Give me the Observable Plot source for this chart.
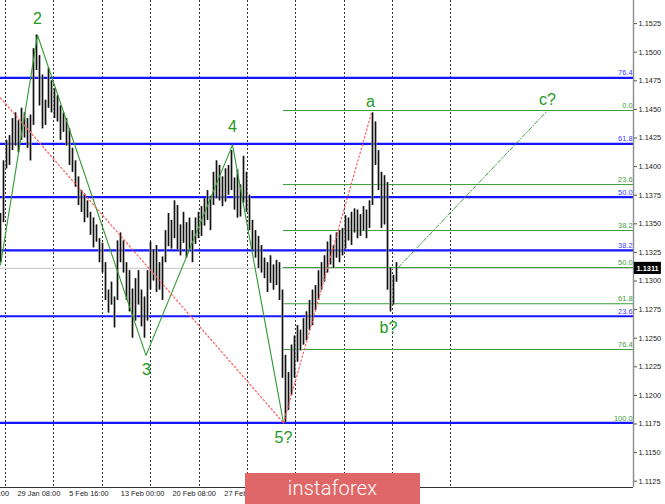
<!DOCTYPE html>
<html>
<head>
<meta charset="utf-8">
<script src="https://cdn.jsdelivr.net/npm/d3@7"></script>
<script src="https://cdn.jsdelivr.net/npm/@observablehq/plot@0.6"></script>
<style>
  html, body { margin: 0; padding: 0; background: #fff; }
  #wrap { position: relative; width: 665px; height: 504px; overflow: hidden; }
  #banner { position: absolute; left: 245px; top: 473px; width: 175px; height: 31px;
    background: #e06767; color: #fff; font-family: Roboto, "Open Sans", sans-serif;
    font-size: 20px; font-weight: 300; line-height: 31px; text-align: center; letter-spacing: 0.2px; }
</style>
</head>
<body>
<div id="wrap"><div id="chart"></div><div id="banner">instaforex</div></div>
<script>
// ---- OHLC bar highs / lows (EURUSD, H4) ----
const highs = [1.1359,1.1405,1.1423,1.1427,1.1442,1.1447,1.1440,1.1451,1.1447,1.1442,
  1.1445,1.1503,1.1515,1.1497,1.1480,1.1458,1.1486,1.1475,1.1468,1.1462,
  1.1453,1.1447,1.1442,1.1433,1.1416,1.1405,1.1391,1.1379,1.1376,1.1370,
  1.1360,1.1355,1.1349,1.1337,1.1333,1.1316,1.1292,1.1299,1.1286,1.1335,
  1.1342,1.1335,1.1316,1.1309,1.1293,1.1302,1.1309,1.1292,1.1286,1.1309,
  1.1334,1.1327,1.1331,1.1316,1.1321,1.1344,1.1359,1.1353,1.1370,1.1366,
  1.1349,1.1360,1.1351,1.1355,1.1344,1.1355,1.1360,1.1365,1.1372,1.1379,
  1.1374,1.1395,1.1405,1.1401,1.1391,1.1398,1.1401,1.1414,1.1390,1.1397,
  1.1384,1.1409,1.1395,1.1375,1.1353,1.1344,1.1339,1.1331,1.1320,1.1316,
  1.1322,1.1314,1.1318,1.1316,1.1292,1.1235,1.1220,1.1244,1.1252,1.1261,
  1.1257,1.1267,1.1273,1.1283,1.1292,1.1296,1.1309,1.1316,1.1322,1.1334,
  1.1340,1.1331,1.1342,1.1344,1.1346,1.1357,1.1355,1.1360,1.1363,1.1362,
  1.1358,1.1365,1.1362,1.1370,1.1447,1.1439,1.1414,1.1395,1.1392,1.1386,
  1.1311,1.1305,1.1316];
const lows = [1.1316,1.1351,1.1398,1.1401,1.1414,1.1418,1.1412,1.1423,1.1425,1.1416,
  1.1405,1.1436,1.1484,1.1453,1.1433,1.1436,1.1451,1.1447,1.1442,1.1439,
  1.1423,1.1430,1.1418,1.1401,1.1395,1.1382,1.1366,1.1360,1.1351,1.1355,
  1.1340,1.1329,1.1334,1.1316,1.1307,1.1283,1.1272,1.1279,1.1259,1.1283,
  1.1316,1.1307,1.1283,1.1273,1.1250,1.1265,1.1279,1.1260,1.1250,1.1265,
  1.1292,1.1300,1.1290,1.1292,1.1283,1.1316,1.1330,1.1328,1.1337,1.1327,
  1.1322,1.1333,1.1320,1.1327,1.1316,1.1332,1.1337,1.1339,1.1348,1.1353,
  1.1344,1.1366,1.1372,1.1370,1.1365,1.1369,1.1375,1.1379,1.1362,1.1355,
  1.1356,1.1368,1.1360,1.1344,1.1327,1.1320,1.1311,1.1307,1.1302,1.1290,
  1.1298,1.1292,1.1296,1.1283,1.1215,1.1176,1.1187,1.1200,1.1215,1.1229,
  1.1239,1.1244,1.1248,1.1257,1.1261,1.1274,1.1283,1.1292,1.1299,1.1307,
  1.1314,1.1311,1.1320,1.1316,1.1322,1.1328,1.1335,1.1331,1.1342,1.1337,
  1.1339,1.1344,1.1337,1.1346,1.1366,1.1401,1.1379,1.1346,1.1349,1.1292,
  1.1273,1.1279,1.1299];
const lastPrice = 1.1311;

// ---- Wave counts (bar index, price) ----
const waveIdx   = [0, 12.33, 48.5, 77.33, 94.33];
const wavePrice = [1.1314, 1.1515, 1.1235, 1.1419, 1.1176];
const redIdxA = [0, 94.33],     redPriceA = [1.1460, 1.1176];
const redIdxB = [94.33, 123.67], redPriceB = [1.1176, 1.1447];
const cIdx = [132.67, 182.33],   cPrice = [1.1312, 1.1449];
const waveLabels = ["2", "3", "4", "5?", "a", "b?", "c?"];
const waveLabelIdx = [12.33, 48.67, 77.33, 94.33, 123.33, 129.33, 182.33];
const waveLabelPrice = [1.15295, 1.12227, 1.14351, 1.11633, 1.14569, 1.12586, 1.14587];

// ---- Fibonacci levels ----
const blueLabels = ["76.4", "61.8", "50.0", "38.2", "23.6", ""];
const bluePrices = [1.14776, 1.14199, 1.13733, 1.13267, 1.12692, 1.11760];
const greenLabels = ["0.0", "23.6", "38.2", "50.0", "61.8", "76.4", "100.0"];
const greenPrices = [1.14490, 1.13843, 1.13441, 1.13118, 1.12801, 1.12401, 1.11755];
const greenStartIdx = 94.33;

// ---- Axes ----
const priceTicks = [1.1125,1.1150,1.1175,1.1200,1.1225,1.1250,1.1275,1.1300,1.1325,1.1350,
  1.1375,1.1400,1.1425,1.1450,1.1475,1.1500,1.1525];
const gridIdx = [1.67, 17.67, 34, 50, 66.33, 82.33, 98.33, 114.67, 130.67, 150];
const timeLabels = ["22 Jan 00:00", "29 Jan 08:00", "5 Feb 16:00", "13 Feb 00:00", "20 Feb 08:00", "27 Feb 16:00"];
const timeIdx = [-11.4, 5.67, 22.9, 40.1, 57.3, 74.6];

const xMax = 211;
const yDomain = [1.111949, 1.154519];

const bars = highs.map((h, i) => ({i, high: h, low: lows[i]}));
const pts = (xs, ys) => xs.map((x, k) => ({x, y: ys[k]}));
const blue = blueLabels.map((l, k) => ({label: l, price: bluePrices[k]}));
const green = greenLabels.map((l, k) => ({label: l, price: greenPrices[k]}));
const wl = waveLabels.map((t, k) => ({t, x: waveLabelIdx[k], y: waveLabelPrice[k]}));
const tl = timeLabels.map((t, k) => ({t, x: timeIdx[k]}));

const chart = Plot.plot({
  width: 665, height: 504,
  marginLeft: 0, marginRight: 32, marginTop: 0, marginBottom: 17,
  x: {domain: [0, xMax], axis: null},
  y: {domain: yDomain, axis: null},
  style: {fontFamily: "'Liberation Sans', Arial, sans-serif", fontSize: "7.4px", background: "#fff", color: "#222"},
  marks: [
    Plot.ruleX(gridIdx, {stroke: "#333", strokeDasharray: "2,2", strokeWidth: 1}),
    Plot.ruleY([lastPrice], {stroke: "#cfcfcf", strokeWidth: 1.2}),
    Plot.ruleY(green, {y: "price", x1: greenStartIdx, x2: xMax, stroke: "#3a9d3a", strokeWidth: 1}),
    Plot.ruleY(blue, {y: "price", stroke: "#1414ff", strokeWidth: 2.2}),
    Plot.ruleX(bars, {x: "i", y1: "low", y2: "high", stroke: "#8a8a8a", strokeWidth: 2.4}),
    Plot.ruleX(bars, {x: "i", y1: "low", y2: "high", stroke: "#111", strokeWidth: 1}),
    Plot.line(pts(waveIdx, wavePrice), {x: "x", y: "y", stroke: "#2f9b2f", strokeWidth: 1.1}),
    Plot.line(pts(redIdxA, redPriceA), {x: "x", y: "y", stroke: "#ff5a5a", strokeWidth: 1.2, strokeDasharray: "1.5,2.5"}),
    Plot.line(pts(redIdxB, redPriceB), {x: "x", y: "y", stroke: "#ff5a5a", strokeWidth: 1.2, strokeDasharray: "1.5,2.5"}),
    Plot.line(pts(cIdx, cPrice), {x: "x", y: "y", stroke: "#3a9d3a", strokeWidth: 1, strokeDasharray: "4,2,1,2"}),
    Plot.text(wl, {x: "x", y: "y", text: "t", fill: "#229a22", fontSize: 16}),
    Plot.text(blue, {x: xMax, y: "price", text: "label", textAnchor: "end", dx: -1, dy: -5, fill: "#3a3aff"}),
    Plot.text(green, {x: xMax, y: "price", text: "label", textAnchor: "end", dx: -1, dy: -5, fill: "#3a9d3a"}),
    Plot.ruleX([xMax], {stroke: "#8c8c8c", strokeWidth: 1.4}),
    Plot.ruleY([yDomain[0]], {stroke: "#333", strokeWidth: 1.2}),
    Plot.axisY(priceTicks, {anchor: "right", tickSize: 3, tickPadding: 2, tickFormat: d3.format(".4f"), stroke: "#555", fill: "#222"}),
    Plot.rect([lastPrice], {x1: () => xMax + 0.3, x2: () => xMax + 9.3, y1: d => d - 0.00053, y2: d => d + 0.00053, fill: "#000"}),
    Plot.text([lastPrice], {x: xMax, y: d => d, text: d => d.toFixed(4), textAnchor: "start", dx: 3, fill: "#fff", fontWeight: "bold"}),
    Plot.text(tl, {x: "x", text: "t", frameAnchor: "bottom", textAnchor: "start", dy: 8, fill: "#222"})
  ]
});
document.getElementById("chart").appendChild(chart);
</script>
</body>
</html>
